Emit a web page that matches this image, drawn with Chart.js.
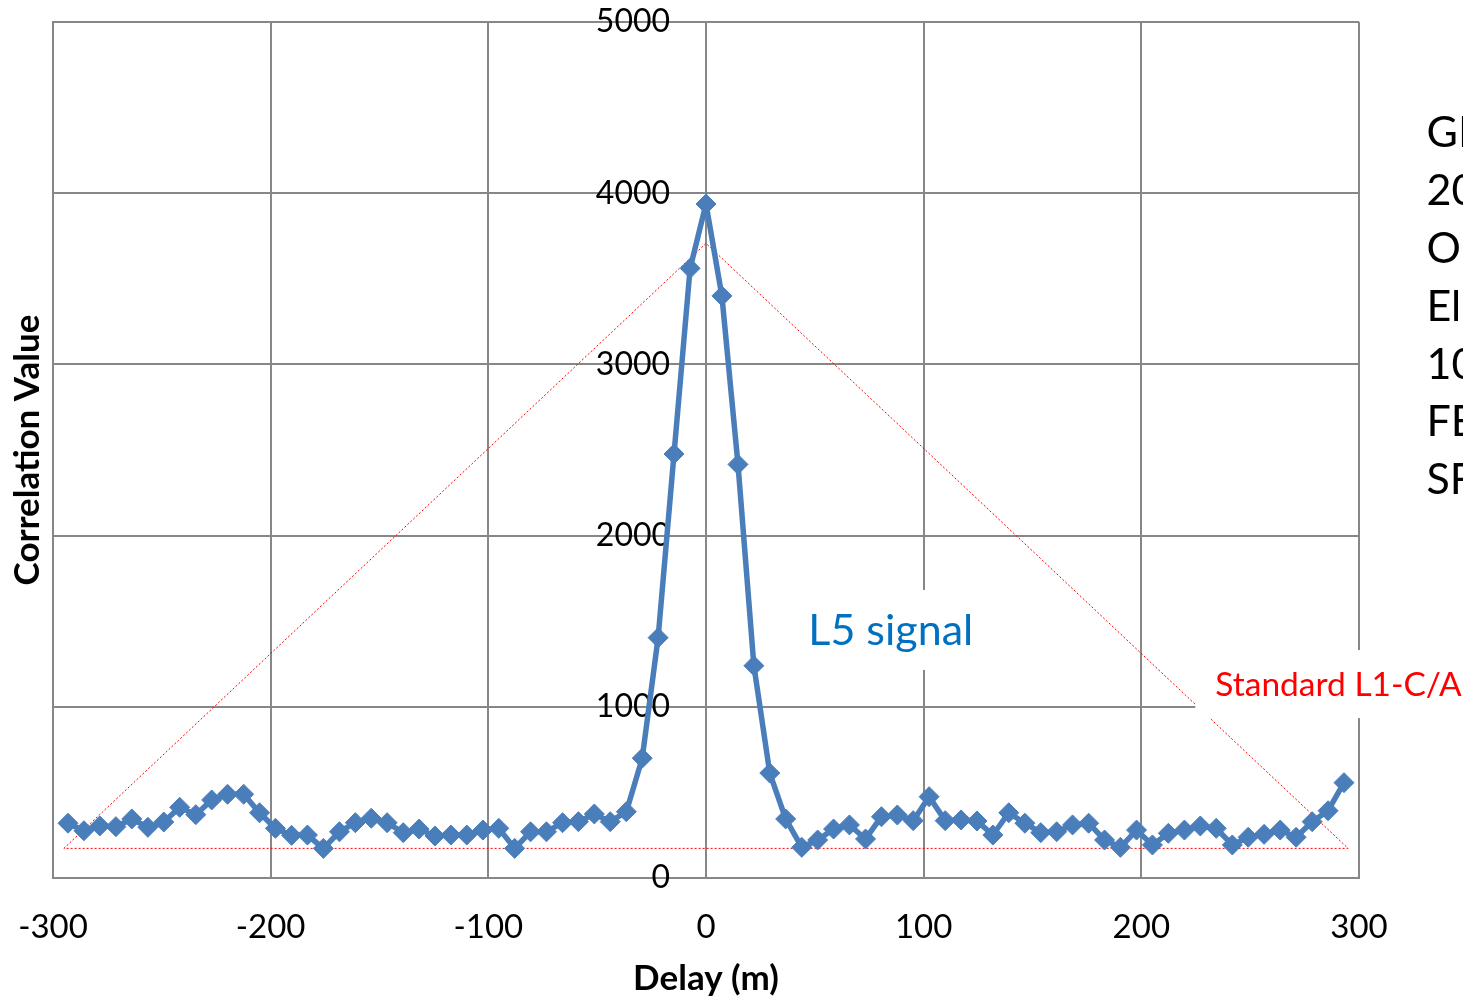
<!DOCTYPE html>
<html>
<head>
<meta charset="utf-8">
<script src="https://cdn.jsdelivr.net/npm/chart.js@4.4.1/dist/chart.umd.min.js"></script>
<style>
  html, body { margin: 0; padding: 0; background: #fff; }
  #wrap { width: 1463px; height: 1000px; }
</style>
</head>
<body>
<div id="wrap"><canvas id="chart"></canvas></div>
<script>
// delay samples (m), about a quarter of an L5 chip apart
const delays = [
  -293.1, -285.8, -278.5, -271.1, -263.8, -256.4, -249.1, -241.8, -234.4, -227.1,
  -219.8, -212.4, -205.1, -197.8, -190.4, -183.1, -175.8, -168.4, -161.1, -153.8,
  -146.5, -139.1, -131.8, -124.5, -117.2, -109.9, -102.5, -95.2, -87.9, -80.6,
  -73.3, -65.9, -58.6, -51.3, -44.0, -36.6, -29.3, -22.0, -14.7, -7.3,
  0,
  7.3, 14.7, 22.0, 29.3, 36.6, 44.0, 51.3, 58.6, 65.9, 73.3,
  80.6, 87.9, 95.2, 102.5, 109.9, 117.2, 124.5, 131.8, 139.1, 146.5,
  153.8, 161.1, 168.4, 175.8, 183.1, 190.4, 197.8, 205.1, 212.4, 219.8,
  227.1, 234.4, 241.8, 249.1, 256.4, 263.8, 271.1, 278.5, 285.8, 293.1
];
const l5Values = [
  320, 276, 304, 300, 345, 296, 327, 413, 370, 456,
  489, 489, 381, 290, 249, 251, 173, 270, 323, 349,
  323, 265, 286, 245, 251, 251, 280, 290, 173, 270,
  270, 323, 329, 374, 329, 387, 700, 1404, 2477, 3561,
  3937,
  3400, 2416, 1240, 613, 345, 179, 222, 286, 310, 228,
  358, 368, 335, 475, 335, 339, 333, 251, 381, 320,
  265, 270, 310, 320, 222, 179, 280, 193, 261, 280,
  304, 290, 193, 238, 255, 280, 238, 329, 393, 557
];
// ideal C/A triangle (dotted red)
const caDelays = [-295, 0, 295, -295];
const caValues = [173, 3707, 173, 173];

const xTicks = [-300, -200, -100, 0, 100, 200, 300];
const yTicks = [0, 1000, 2000, 3000, 4000, 5000];
const sideNotes = ['GP', '20', 'Op', 'Ele', '10', 'FE', 'SF'];

Chart.defaults.font.family = 'Lato, "Open Sans", sans-serif';
Chart.defaults.color = '#000';

const gridColor = '#878787';

function noPad(s) {
  s.paddingTop = 0; s.paddingBottom = 0; s.paddingLeft = 0; s.paddingRight = 0;
}

const textPlugin = {
  id: 'notes',
  afterDraw(chart) {
    const {ctx, scales: {x, y}} = chart;
    ctx.save();
    ctx.textBaseline = 'middle';
    ctx.textAlign = 'left';

    // "L5 signal" label with white box
    ctx.font = '43px Lato';
    let lx = x.getPixelForValue(47), ly = y.getPixelForValue(1443);
    ctx.fillStyle = '#fff';
    ctx.fillRect(lx - 18, ly - 41, ctx.measureText('L5 signal').width + 36, 80);
    ctx.fillStyle = '#0070c0';
    ctx.fillText('L5 signal', lx, ly);

    // "Standard L1-C/A" label with white box
    ctx.font = '33.5px Lato';
    lx = x.getPixelForValue(234); ly = y.getPixelForValue(1127);
    ctx.fillStyle = '#fff';
    ctx.fillRect(lx - 20, ly - 35, 300, 68);
    ctx.fillStyle = '#ff0000';
    ctx.fillText('Standard L1-C/A', lx, ly);

    // clipped note block at the right edge
    ctx.font = '43px Lato';
    ctx.fillStyle = '#000';
    const nx = x.getPixelForValue(331);
    sideNotes.forEach((t, i) => {
      ctx.fillText(t, nx, y.getPixelForValue(4350 - i * 338));
    });
    ctx.restore();
  }
};

new Chart(document.getElementById('chart'), {
  type: 'scatter',
  data: {
    datasets: [
      {
        label: 'L5 signal',
        data: delays.map((d, i) => ({x: d, y: l5Values[i]})),
        showLine: true,
        borderColor: '#4a7ebb',
        backgroundColor: '#4a7ebb',
        borderWidth: 5.5,
        pointStyle: 'rectRot',
        pointRadius: 10,
        pointBorderWidth: 1,
        pointBorderColor: '#4a7ebb',
        order: 1
      },
      {
        label: 'Standard L1-C/A',
        data: caDelays.map((d, i) => ({x: d, y: caValues[i]})),
        showLine: true,
        borderColor: '#ff0000',
        borderWidth: 1,
        borderDash: [2, 2],
        pointRadius: 0,
        order: 2
      }
    ]
  },
  options: {
    responsive: true,
    maintainAspectRatio: false,
    animation: false,
    layout: { padding: { top: 22, right: 104, left: 0, bottom: 0 } },
    plugins: { legend: { display: false }, tooltip: { enabled: false } },
    scales: {
      x: {
        type: 'linear',
        min: -300, max: 300,
        afterBuildTicks: s => { s.ticks = xTicks.map(v => ({value: v})); },
        afterFit: s => { s.height = 122; noPad(s); },
        grid: { color: gridColor, lineWidth: 2, drawTicks: false },
        border: { color: gridColor, width: 2 },
        ticks: { font: { size: 33 }, padding: 30, callback: v => String(v) },
        title: { display: true, text: 'Delay (m)', font: { size: 35, weight: 'bold' }, padding: { top: 0, bottom: 0 } }
      },
      y: {
        min: 0, max: 5000,
        afterBuildTicks: s => { s.ticks = yTicks.map(v => ({value: v})); },
        afterFit: s => { s.width = 53; noPad(s); },
        grid: { color: gridColor, lineWidth: 2, drawTicks: false },
        border: { color: gridColor, width: 2 },
        ticks: { display: false },
        title: { display: true, text: 'Correlation Value', font: { size: 35, weight: 'bold' }, padding: { top: 7, bottom: 0 } }
      },
      yLabels: {
        position: { x: -16.5 },
        min: 0, max: 5000,
        afterBuildTicks: s => { s.ticks = yTicks.map(v => ({value: v})); },
        afterFit: s => { noPad(s); },
        grid: { display: false, drawTicks: false },
        border: { display: false },
        ticks: { font: { size: 32 }, padding: 0, callback: v => String(v) }
      }
    }
  },
  plugins: [textPlugin]
});
</script>
</body>
</html>
